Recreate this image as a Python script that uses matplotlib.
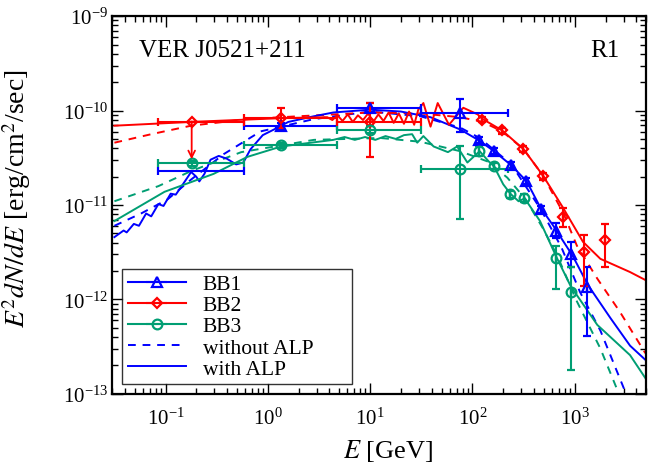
import matplotlib.pyplot as plt
from matplotlib.patches import FancyArrowPatch
import numpy as np

plt.rcParams['font.family'] = 'serif'
plt.rcParams['font.serif'] = ['Liberation Serif', 'DejaVu Serif']
plt.rcParams['mathtext.fontset'] = 'stix'
plt.rcParams['axes.unicode_minus'] = False

BLUE = '#0000ff'
RED = '#ff0000'
GREEN = '#009e73'

# ---- data points (E in GeV, E^2 dN/dE in erg/cm^2/s) ----
# low-energy bins (Fermi-LAT like): bin edges
bin_lo = [0.0845, 0.583, 4.7, 31.1]
bin_hi = [0.583, 4.7, 31.1, 224.0]

bb1_E = [0.18, 1.34, 10.0, 75.0, 117, 164, 240, 336, 471, 660, 925, 1324]
bb1_F = [2.28e-11, 6.79e-11, 1.07e-10, 9.5e-11, 4.83e-11, 3.7e-11, 2.63e-11,
         1.79e-11, 9.1e-12, 5.3e-12, 3.05e-12, 1.37e-12]
bb1_Fhi = [2.28e-11, 7.4e-11, 1.2e-10, 1.34e-10, 5.2e-11, 4.0e-11, 2.85e-11,
           1.95e-11, 9.8e-12, 6.4e-12, 4.1e-12, 2.2e-12]
bb1_Flo = [2.28e-11, 6.2e-11, 9.6e-11, 5.9e-11, 4.5e-11, 3.45e-11, 2.45e-11,
           1.65e-11, 8.2e-12, 4.5e-12, 2.2e-12, 4.1e-13]

bb2_E = [0.18, 1.34, 10.0, 125, 196, 315, 493, 772, 1238, 1985]
bb2_F = [7.65e-11, 8.44e-11, 7.65e-11, 8.04e-11, 6.16e-11, 3.89e-11, 2.02e-11,
         7.5e-12, 3.2e-12, 4.3e-12]
bb2_Fhi = [7.65e-11, 1.07e-10, 1.21e-10, 8.6e-11, 6.6e-11, 4.2e-11, 2.2e-11,
           9.3e-12, 4.8e-12, 6.3e-12]
bb2_Flo = [7.65e-11, 6.6e-11, 3.2e-11, 7.5e-11, 5.7e-11, 3.6e-11, 1.85e-11,
           5.9e-12, 1.4e-12, 2.2e-12]
bb2_ul_to = 3.05e-11   # upper limit arrow tip for first BB2 point

bb3_E = [0.18, 1.34, 10.0, 75.0, 117, 164, 235, 321, 660, 925]
bb3_F = [2.77e-11, 4.28e-11, 6.3e-11, 2.39e-11, 3.7e-11, 2.58e-11, 1.3e-11,
         1.19e-11, 2.77e-12, 1.19e-12]
bb3_Fhi = [2.95e-11, 4.5e-11, 6.8e-11, 4.18e-11, 4.2e-11, 2.8e-11, 1.42e-11,
           1.3e-11, 3.7e-12, 2.2e-12]
bb3_Flo = [2.6e-11, 4.05e-11, 5.8e-11, 7.1e-12, 3.3e-11, 2.4e-11, 1.18e-11,
           1.08e-11, 1.3e-12, 1.8e-13]

# ---- model curves, log10(E/GeV) and log10(flux) ----
bb1_noalp_lx = [-1.50, -1.24, -0.98, -0.75, -0.43, -0.07, 0.45, 1.00, 1.49,
                1.88, 2.07, 2.38, 2.67, 2.87, 3.05, 3.25, 3.49, 3.64]
bb1_noalp_ly = [-11.22, -11.09, -10.94, -10.73, -10.46, -10.22, -10.09, -10.01,
                -10.06, -10.18, -10.29, -10.57, -11.05, -11.45, -11.92, -12.33,
                -12.97, -13.25]
bb1_alp_lx = [-1.50, -1.41, -1.38, -1.31, -1.26, -1.19, -1.14, -1.07, -1.02,
              -0.95, -0.90, -0.83, -0.75, -0.70, -0.67, -0.62, -0.56, -0.48,
              -0.40, -0.31, -0.24, -0.17, -0.05, 0.06, 0.20, 0.45, 0.64, 1.00,
              1.30, 1.59, 1.88, 2.07, 2.21, 2.38, 2.53, 2.66, 2.79, 2.98, 3.13,
              3.35, 3.54, 3.70]
bb1_alp_ly = [-11.34, -11.27, -11.29, -11.20, -11.22, -11.09, -11.12, -10.99,
              -11.01, -10.88, -10.89, -10.78, -10.65, -10.70, -10.75, -10.67,
              -10.52, -10.48, -10.51, -10.57, -10.55, -10.41, -10.26, -10.20,
              -10.12, -10.06, -10.02, -9.99, -10.01, -10.07, -10.20, -10.32,
              -10.43, -10.58, -10.75, -11.02, -11.22, -11.54, -11.85, -12.20,
              -12.49, -12.65]

bb2_noalp_lx = [-1.50, -1.14, -0.75, -0.20, 0.13, 1.00, 1.49, 1.88, 2.10, 2.29,
                2.50, 2.69, 2.89, 3.02, 3.22, 3.44, 3.69]
bb2_noalp_ly = [-10.34, -10.25, -10.16, -10.09, -10.07, -10.02, -10.03, -10.07,
                -10.12, -10.22, -10.41, -10.69, -11.09, -11.43, -11.78, -12.13,
                -12.57]
bb2_alp_lx = [-1.50, -0.75, 0.13, 0.58, 0.63, 0.68, 0.73, 0.78, 0.83, 0.88,
              0.93, 0.98, 1.03, 1.08, 1.13, 1.18, 1.23, 1.28, 1.33, 1.38, 1.43,
              1.47, 1.52, 1.59, 1.66, 1.77, 1.91, 2.05, 2.10, 2.29, 2.50, 2.69,
              2.88, 3.08, 3.25, 3.54, 3.70]
bb2_alp_ly = [-10.16, -10.12, -10.08, -10.07, -10.10, -10.05, -10.11, -10.04,
              -10.12, -10.05, -10.10, -10.03, -10.12, -10.04, -10.11, -10.02,
              -10.13, -10.03, -10.14, -10.01, -10.15, -9.99, -9.92, -10.17,
              -9.92, -10.15, -9.97, -10.04, -10.09, -10.21, -10.41, -10.69,
              -11.02, -11.39, -11.57, -11.71, -11.80]

bb3_noalp_lx = [-1.50, -1.07, -0.75, -0.26, 0.45, 1.10, 1.49, 1.88, 2.15, 2.34,
                2.52, 2.69, 2.83, 3.02, 3.25, 3.42]
bb3_noalp_ly = [-10.96, -10.80, -10.64, -10.44, -10.31, -10.29, -10.33, -10.43,
                -10.54, -10.71, -10.94, -11.25, -11.54, -12.02, -12.52, -12.97]
bb3_alp_lx = [-1.50, -1.01, -0.53, -0.20, 0.13, 0.64, 0.75, 0.85, 0.95, 1.05,
              1.15, 1.25, 1.33, 1.41, 1.46, 1.52, 1.62, 1.76, 1.85, 1.95, 2.07,
              2.16, 2.21, 2.30, 2.37, 2.45, 2.51, 2.66, 2.82, 2.96, 3.22, 3.54,
              3.70]
bb3_alp_ly = [-11.17, -10.86, -10.67, -10.49, -10.38, -10.31, -10.28, -10.31,
              -10.28, -10.31, -10.27, -10.30, -10.26, -10.25, -10.34, -10.27,
              -10.38, -10.44, -10.38, -10.55, -10.43, -10.54, -10.59, -10.78,
              -10.88, -10.96, -10.93, -11.17, -11.55, -11.86, -12.27, -12.59,
              -12.85]

fig = plt.figure(figsize=(6.67, 4.64), dpi=100)
ax = fig.add_axes([0.168, 0.149, 0.801, 0.814])

dash = (0, (4, 3.5))
curves = [
    (bb1_noalp_lx, bb1_noalp_ly, BLUE, dash),
    (bb2_noalp_lx, bb2_noalp_ly, RED, dash),
    (bb3_noalp_lx, bb3_noalp_ly, GREEN, dash),
    (bb1_alp_lx, bb1_alp_ly, BLUE, '-'),
    (bb2_alp_lx, bb2_alp_ly, RED, '-'),
    (bb3_alp_lx, bb3_alp_ly, GREEN, '-'),
]
for lx, ly, c, ls in curves:
    ax.plot(10 ** np.array(lx), 10 ** np.array(ly), color=c, ls=ls, lw=1.4)


def draw_points(E, F, Fhi, Flo, nbins, color, marker, ms, skip_first_marker=False):
    E = np.array(E)
    F = np.array(F)
    yerr = np.array([F - np.array(Flo), np.array(Fhi) - F])
    xerr = np.zeros((2, len(E)))
    xerr[0, :nbins] = E[:nbins] - np.array(bin_lo[:nbins])
    xerr[1, :nbins] = np.array(bin_hi[:nbins]) - E[:nbins]
    kw = dict(color=color, ecolor=color, elinewidth=1.5, capsize=3,
              capthick=1.5, mfc='none', mec=color, mew=1.6, ms=ms, zorder=5)
    i0 = 1 if skip_first_marker else 0
    if skip_first_marker:
        ax.errorbar(E[:1], F[:1], xerr=xerr[:, :1], fmt='none', **kw)
    ax.errorbar(E[i0:], F[i0:], xerr=xerr[:, i0:], yerr=yerr[:, i0:],
                fmt=marker, ls='none', **kw)


draw_points(bb1_E, bb1_F, bb1_Fhi, bb1_Flo, 4, BLUE, '^', 7, skip_first_marker=True)
draw_points(bb2_E, bb2_F, bb2_Fhi, bb2_Flo, 3, RED, 'D', 5.5)
draw_points(bb3_E, bb3_F, bb3_Fhi, bb3_Flo, 4, GREEN, 'o', 7)

# upper limit arrow on first BB2 point
ax.add_patch(FancyArrowPatch((bb2_E[0], bb2_F[0]), (bb2_E[0], bb2_ul_to),
                             arrowstyle='->', color=RED, lw=1.3,
                             mutation_scale=12, shrinkA=0, shrinkB=0, zorder=6))

ax.set_xscale('log')
ax.set_yscale('log')
ax.set_xlim(0.03, 5000)
ax.set_ylim(1e-13, 1e-9)

ax.tick_params(which='both', direction='in', top=True, right=True,
               labelsize=15, width=1.0)
ax.tick_params(which='major', length=8)
ax.tick_params(which='minor', length=4)
ax.tick_params(axis='x', which='major', pad=10)
ax.tick_params(axis='y', which='major', pad=3)
for s in ax.spines.values():
    s.set_linewidth(1.6)

ax.set_xlabel(r'$E$ [GeV]', fontsize=19)
ax.set_ylabel(r'$E^2 dN/dE$ [erg/cm$^2$/sec]', fontsize=20)
ax.xaxis.set_label_coords(0.517, -0.115)
ax.yaxis.set_label_coords(-0.148, 0.52)

ax.text(0.050, 0.91, 'VER J0521+211', transform=ax.transAxes, fontsize=18,
        ha='left', va='center')
ax.text(0.950, 0.91, 'R1', transform=ax.transAxes, fontsize=18,
        ha='right', va='center')

# legend proxies
h1 = ax.errorbar([], [], xerr=[], color=BLUE, marker='^', mfc='none', mew=1.6,
                 ms=7, capsize=3, elinewidth=1.5, capthick=1.5)
h2 = ax.errorbar([], [], xerr=[], color=RED, marker='D', mfc='none', mew=1.6,
                 ms=5.5, capsize=3, elinewidth=1.5, capthick=1.5)
h3 = ax.errorbar([], [], xerr=[], color=GREEN, marker='o', mfc='none', mew=1.6,
                 ms=7, capsize=3, elinewidth=1.5, capthick=1.5)
l4, = ax.plot([], [], color=BLUE, ls=dash, lw=1.4)
l5, = ax.plot([], [], color=BLUE, ls='-', lw=1.4)
leg = ax.legend([h1, h2, h3, l4, l5],
                ['BB1', 'BB2', 'BB3', 'without ALP', 'with ALP'],
                loc='lower left', bbox_to_anchor=(0.019, 0.026, 0.43, 0.317),
                mode='expand', fontsize=15.5,
                frameon=True, fancybox=False, edgecolor='black',
                handlelength=2.7, labelspacing=0.05, borderpad=0.25,
                handletextpad=0.8, borderaxespad=0)
leg.get_frame().set_linewidth(1.0)

fig.savefig('out.png', dpi=100)
